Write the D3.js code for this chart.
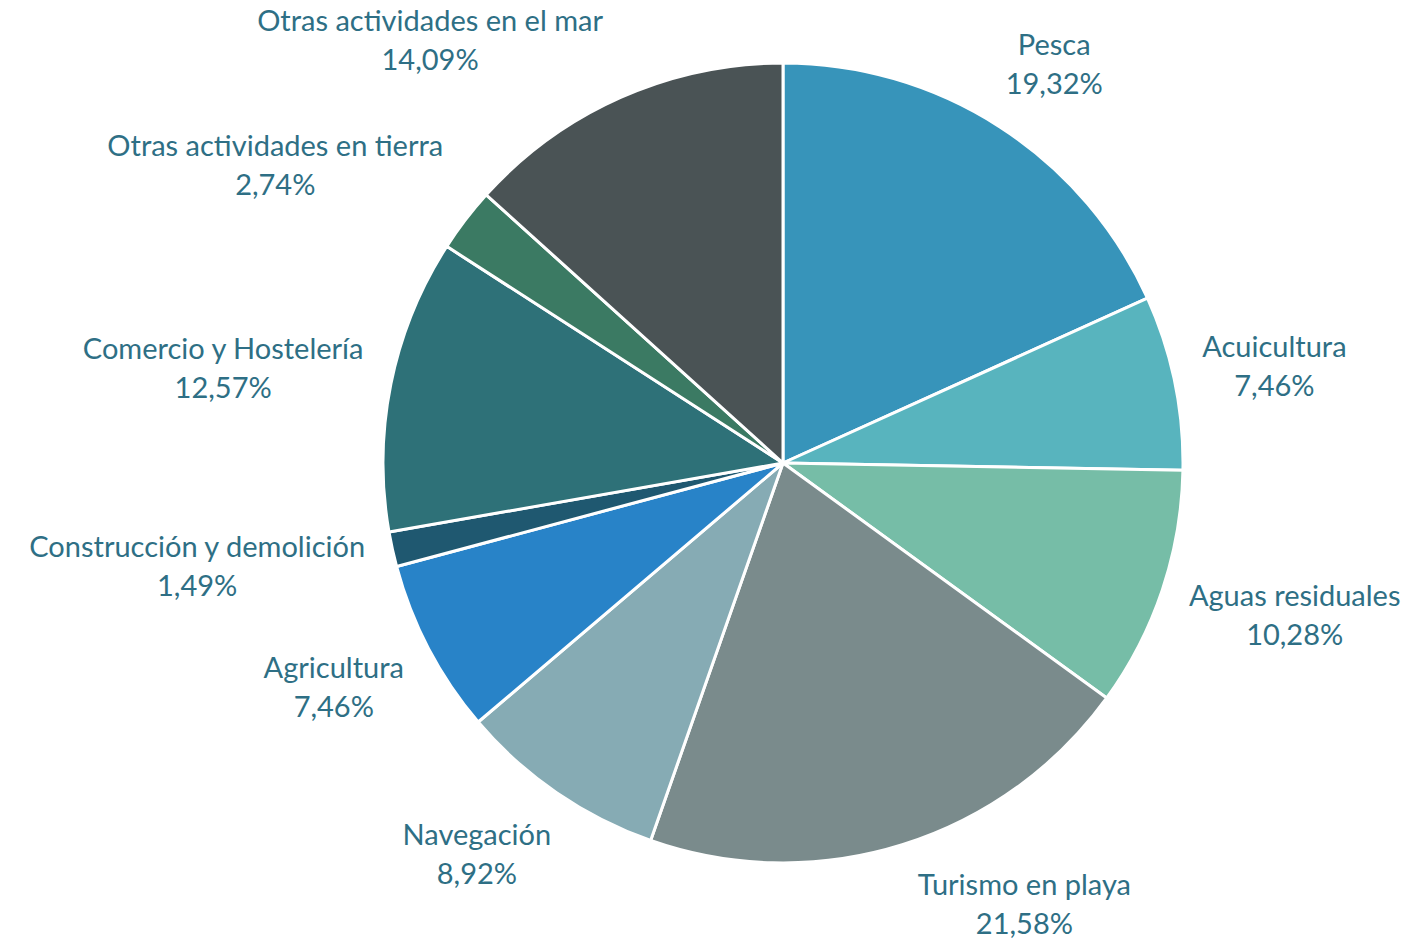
<!DOCTYPE html>
<html lang="es">
<head>
   <meta charset="UTF-8">
   <title>Actividades</title>
   <script src="https://cdn.jsdelivr.net/npm/d3@7"></script>
   <style>
      html, body { margin: 0; padding: 0; background: #fff; }
      svg { display: block; }
   </style>
</head>
<body>
   <div class="d3"></div>
   <script>
      // data
      const categories = ['Pesca', 'Acuicultura', 'Aguas residuales', 'Turismo en playa', 'Navegación',
         'Agricultura', 'Construcción y demolición', 'Comercio y Hostelería',
         'Otras actividades en tierra', 'Otras actividades en el mar']
      const values = [19.32, 7.46, 10.28, 21.58, 8.92, 7.46, 1.49, 12.57, 2.74, 14.09]
      const colors = ['#3794ba', '#58b4be', '#76bda7', '#7a8b8c', '#86abb4',
         '#2883c8', '#1f5870', '#2e7178', '#3b7a63', '#4a5355']

      // constants
      const WIDTH = 1417
      const HEIGHT = 940
      const CX = 783
      const CY = 463
      const RADIUS = 400
      const LABEL_DIST = 428
      const LINE_H = 39
      const TEXT_COLOR = '#2e6f85'
      const FONT = 'Lato, "Open Sans", sans-serif'
      const FONT_SIZE = 29

      const svg = d3.select('.d3').append('svg')
         .attr('width', WIDTH)
         .attr('height', HEIGHT)

      const pie = d3.pie().sort(null).value(d => d)
      const arcs = pie(values)
      const arc = d3.arc().innerRadius(0).outerRadius(RADIUS)

      const g = svg.append('g').attr('transform', `translate(${CX}, ${CY})`)

      g.selectAll('path')
         .data(arcs)
         .join('path')
         .attr('d', arc)
         .attr('fill', (d, i) => colors[i])
         .attr('stroke', '#fff')
         .attr('stroke-width', 3)
         .attr('stroke-linejoin', 'round')

      const fmt = v => d3.format('.2f')(v).replace('.', ',') + '%'

      // labels
      const labels = g.selectAll('text.label')
         .data(arcs)
         .join('text')
         .attr('class', 'label')
         .attr('text-anchor', 'middle')
         .attr('font-family', FONT)
         .attr('font-size', FONT_SIZE)
         .attr('fill', TEXT_COLOR)

      labels.append('tspan').attr('x', 0).attr('y', -LINE_H / 2 + 10).text((d, i) => categories[i])
      labels.append('tspan').attr('x', 0).attr('y', LINE_H / 2 + 10).text(d => fmt(d.value))

      // distance from pie centre to nearest point of a box
      function boxDist(cx, cy, w, h) {
         const dx = Math.max(Math.abs(cx) - w / 2, 0)
         const dy = Math.max(Math.abs(cy) - h / 2, 0)
         return Math.hypot(dx, dy)
      }

      const clamp1 = v => Math.max(-1, Math.min(1, v))

      labels.each(function (d) {
         const w = this.getBBox().width
         const h = LINE_H * 2
         const a = (d.startAngle + d.endAngle) / 2
         const ux = Math.sin(a), uy = -Math.cos(a)

         // anchor just outside the arc, box pushed away from it
         const k = 1.25 / Math.max(Math.abs(ux), Math.abs(uy))
         let x = LABEL_DIST * ux + w / 2 * clamp1(k * ux)
         let y = LABEL_DIST * uy + h / 2 * clamp1(k * uy)

         // keep inside the chart, sliding sideways
         const minY = -CY + h / 2 + 1
         const maxY = HEIGHT - CY - h / 2 + 3
         if (y < minY || y > maxY) {
            y = Math.max(minY, Math.min(maxY, y))
            const sx = ux >= 0 ? 1 : -1
            let lo = 0, hi = 1200
            for (let n = 0; n < 60; n++) {
               const t = (lo + hi) / 2
               if (boxDist(t * sx, y, w, h) < LABEL_DIST - 4) lo = t
               else hi = t
            }
            x = lo * sx
         }
         x = Math.max(-CX + w / 2, Math.min(WIDTH - CX - w / 2, x))

         d3.select(this).attr('transform', `translate(${x}, ${y})`)
      })
   </script>
</body>
</html>
